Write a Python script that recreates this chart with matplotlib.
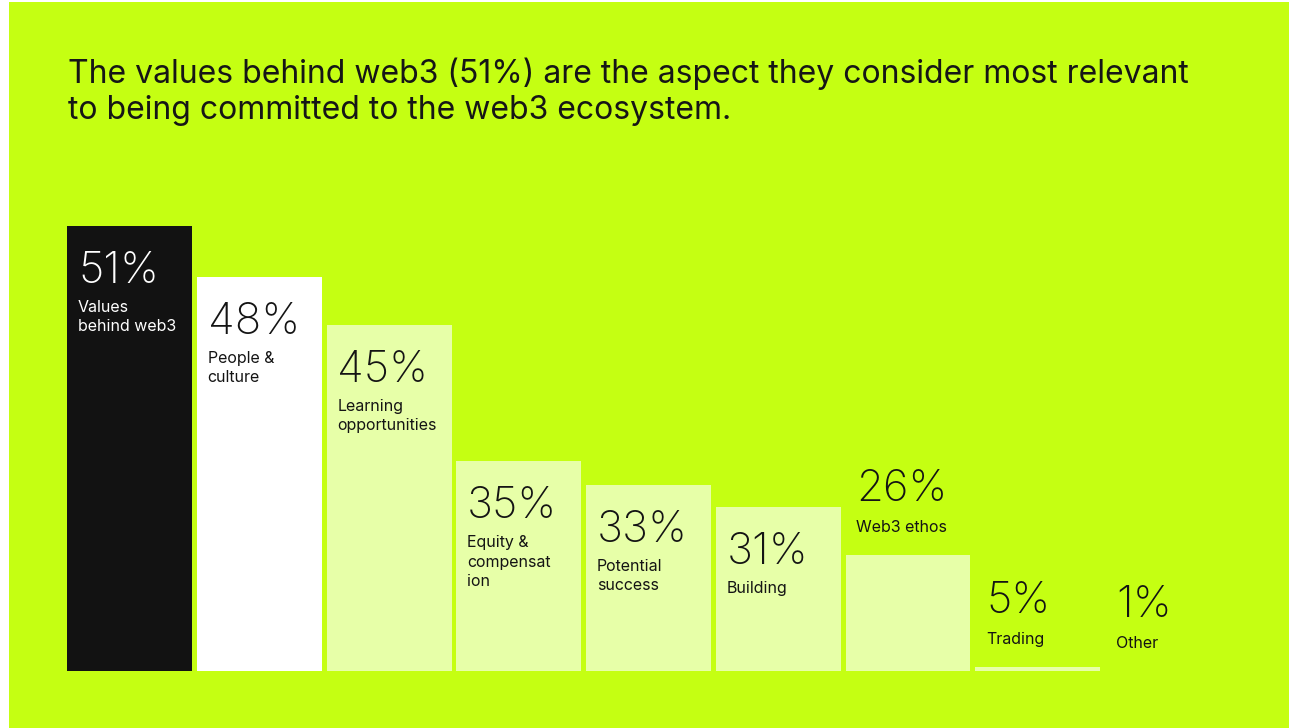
import numpy as np
import matplotlib
matplotlib.use("Agg")
import matplotlib.pyplot as plt
from matplotlib.patches import Rectangle

# Survey results: share of respondents naming each aspect
categories = ["Values\nbehind web3", "People &\nculture", "Learning\nopportunities",
              "Equity &\ncompensat\nion", "Potential\nsuccess", "Building",
              "Web3 ethos", "Trading", "Other"]
values = [51, 48, 45, 35, 33, 31, 26, 5, 1]
value_labels = ["51%", "48%", "45%", "35%", "33%", "31%", "26%", "5%", "1%"]

BG = "#C5FF12"
PALE = "#E7FFA8"
bar_colors = ["#121212", "#FFFFFF"] + [PALE] * 7
text_colors = ["#FFFFFF"] + ["#141414"] * 8

FONT = "Inter"
plt.rcParams["font.family"] = [FONT, "DejaVu Sans"]

W, H = 1289, 728
fig = plt.figure(figsize=(W / 100, H / 100), dpi=100, facecolor="white")
# green panel with a thin white margin at left and top
fig.patches.append(Rectangle((9 / W, 0), 1 - 9 / W, 1 - 2 / H,
                             transform=fig.transFigure, facecolor=BG,
                             edgecolor="none", zorder=-5))

fig.text(68 / W, 1 - 83 / H,
         "The values behind web3 (51%) are the aspect they consider most relevant",
         fontsize=23, color="#161616", va="baseline", ha="left")
fig.text(68 / W, 1 - 119 / H, "to being committed to the web3 ecosystem.",
         fontsize=23, color="#161616", va="baseline", ha="left")

pitch = 129.75
ax = fig.add_axes([(67 - (pitch - 125) / 2) / W, 57 / H, 9 * pitch / W, 445 / H])
ax.set_facecolor("none")
# emphasis scale: bar height grows with the square of the share
ax.set_yscale("function", functions=(lambda v: np.sign(v) * v ** 2,
                                     lambda v: np.sign(v) * np.sqrt(np.abs(v))))
x = np.arange(len(values))
width = 125 / pitch
bars = ax.bar(x, values, width=width, color=bar_colors, edgecolor="none", zorder=2)
ax.set_xlim(-0.5, len(values) - 0.5)
ax.set_ylim(0, max(values))
ax.axis("off")

pt = 72 / 100  # pixels -> points
PCT_SIZE = 31.5
for xi, v, lab, cat, tc in zip(x, values, value_labels, categories, text_colors):
    left = xi - width / 2
    if v >= 30:
        # label stack inside the bar, just below its top
        ax.annotate(lab, (left, v), xytext=(11 * pt, -25 * pt),
                    textcoords="offset points", fontsize=PCT_SIZE,
                    fontweight="light", color=tc, ha="left", va="top",
                    annotation_clip=False, zorder=3)
        ax.annotate(cat, (left, v), xytext=(11 * pt, -74 * pt),
                    textcoords="offset points", fontsize=11.5, color=tc,
                    ha="left", va="top", linespacing=1.35,
                    annotation_clip=False, zorder=3)
    else:
        # short bars: stack sits above the bar
        ax.annotate(cat, (left, v), xytext=(11 * pt, 20 * pt),
                    textcoords="offset points", fontsize=11.5, color="#141414",
                    ha="left", va="bottom", annotation_clip=False, zorder=3)
        ax.annotate(lab, (left, v), xytext=(11 * pt, 45 * pt),
                    textcoords="offset points", fontsize=PCT_SIZE,
                    fontweight="light", color="#141414", ha="left", va="bottom",
                    annotation_clip=False, zorder=3)

fig.savefig("out.png", dpi=100, facecolor="white")
